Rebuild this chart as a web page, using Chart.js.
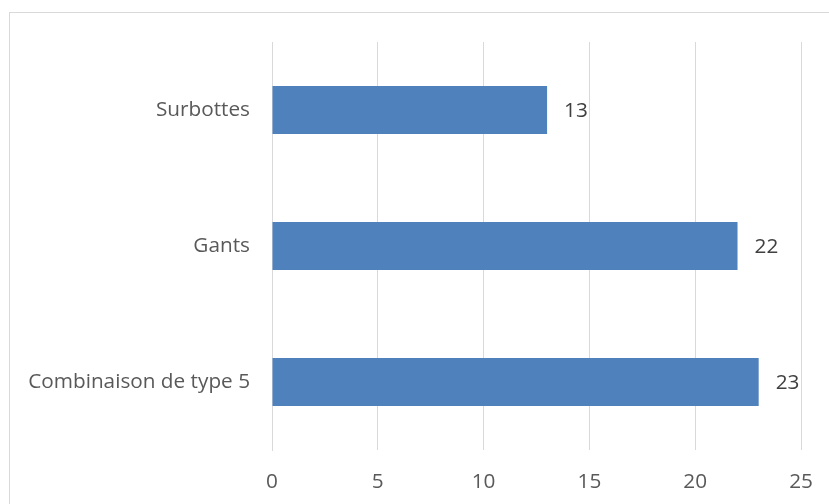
<!DOCTYPE html>
<html>
<head>
<meta charset="utf-8">
<script src="https://cdn.jsdelivr.net/npm/chart.js@4"></script>
<style>
  html, body { margin: 0; padding: 0; background: #ffffff; overflow: hidden; }
  #frame { position: absolute; left: 9px; top: 12px; width: 840px; height: 520px; border: 1px solid #d9d9d9; box-sizing: border-box; }
  #c { position: absolute; left: 0; top: 0; }
</style>
</head>
<body>
<div id="frame"></div>
<canvas id="c" width="829" height="504"></canvas>
<script>
const categories = ['Surbottes', 'Gants', 'Combinaison de type 5'];
const values = [13, 22, 23];
const xTicks = [0, 5, 10, 15, 20, 25];

const FONT_SIZE = 20.75;

const valueLabels = {
  id: 'valueLabels',
  afterDatasetsDraw(chart) {
    const ctx = chart.ctx;
    const meta = chart.getDatasetMeta(0);
    ctx.save();
    ctx.font = FONT_SIZE + 'px "Open Sans"';
    ctx.fillStyle = '#404040';
    ctx.textAlign = 'left';
    ctx.textBaseline = 'middle';
    meta.data.forEach((bar, i) => {
      ctx.fillText(String(values[i]), bar.x + 17, bar.y + 1);
    });
    ctx.restore();
  }
};

new Chart(document.getElementById('c'), {
  type: 'bar',
  data: {
    labels: categories,
    datasets: [{
      data: values,
      backgroundColor: '#4F81BD',
      borderWidth: 0,
      categoryPercentage: 1,
      barPercentage: 0.353
    }]
  },
  options: {
    indexAxis: 'y',
    responsive: false,
    animation: false,
    devicePixelRatio: 1,
    layout: { padding: { top: 42, right: 28, left: 0, bottom: 0 } },
    plugins: { legend: { display: false }, tooltip: { enabled: false } },
    scales: {
      x: {
        min: 0, max: 25,
        afterBuildTicks(scale) { scale.ticks = xTicks.map(v => ({ value: v })); },
        afterFit(scale) { scale.height = 54; scale.paddingLeft = 0; scale.paddingRight = 0; },
        grid: { color: '#d9d9d9', lineWidth: 1, drawTicks: false },
        border: { display: false },
        ticks: { color: '#595959', font: { family: 'Open Sans', size: FONT_SIZE }, padding: 20 }
      },
      y: {
        afterFit(scale) { scale.width = 272; },
        grid: { display: false, drawTicks: false },
        border: { display: true, color: '#d9d9d9', width: 1 },
        ticks: { color: '#595959', font: { family: 'Open Sans', size: FONT_SIZE }, padding: 22 }
      }
    }
  },
  plugins: [valueLabels]
});
</script>
</body>
</html>
